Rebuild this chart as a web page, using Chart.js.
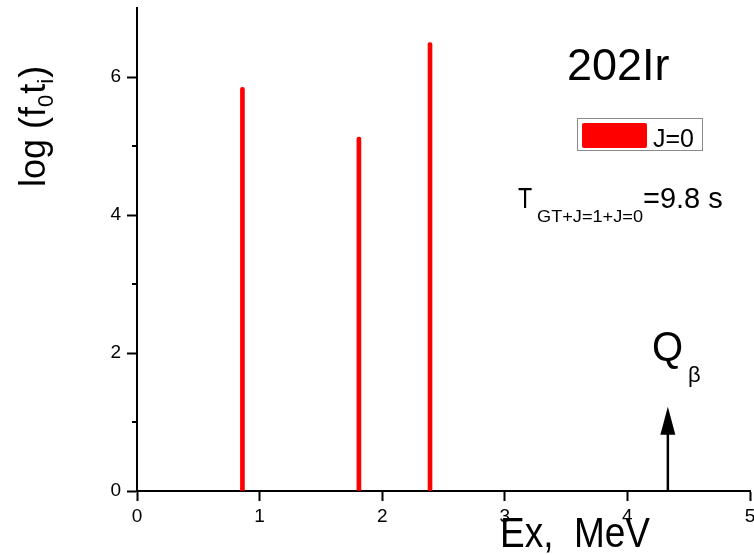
<!DOCTYPE html>
<html>
<head>
<meta charset="utf-8">
<script src="https://cdn.jsdelivr.net/npm/chart.js@4.4.1/dist/chart.umd.min.js"></script>
<style>
    html, body { margin: 0; padding: 0; background: #ffffff; }
    #wrap { width: 754px; height: 555px; }
</style>
</head>
<body>
<div id="wrap"><canvas id="grafico"></canvas></div>
<script>
// energias dos niveis (MeV) e log(f0 t) de cada um
const energias = [0.86, 1.81, 2.39];
const logft = [5.85, 5.13, 6.5];
const ticksX = [0, 1, 2, 3, 4, 5];
const ticksY = [0, 2, 4, 6];
const minorY = [1, 3, 5];
// seta do Q beta
const qBeta = 4.33;
const qBetaTopo = 1.22;

const FONTE = '"Liberation Sans", Arial, sans-serif';

const pontos = energias.map((e, i) => ({ x: e, y: logft[i] }));

const anotacoes = {
    id: 'anotacoes',
    afterDraw(chart) {
        const ctx = chart.ctx;
        const sx = chart.scales.x;
        const sy = chart.scales.y;
        ctx.save();
        ctx.fillStyle = '#000';
        ctx.strokeStyle = '#000';

        // minor ticks do eixo y
        ctx.lineWidth = 2;
        minorY.forEach(v => {
            const y = sy.getPixelForValue(v);
            ctx.beginPath();
            ctx.moveTo(sx.left - 5, y);
            ctx.lineTo(sx.left, y);
            ctx.stroke();
        });

        // seta Q beta
        const xa = sx.getPixelForValue(qBeta);
        const y0 = sy.getPixelForValue(0);
        const yt = sy.getPixelForValue(qBetaTopo);
        ctx.lineWidth = 2.5;
        ctx.beginPath();
        ctx.moveTo(xa, y0);
        ctx.lineTo(xa, yt + 20);
        ctx.stroke();
        ctx.beginPath();
        ctx.moveTo(xa, yt);
        ctx.lineTo(xa - 7.5, yt + 28);
        ctx.lineTo(xa + 7.5, yt + 28);
        ctx.closePath();
        ctx.fill();

        ctx.textBaseline = 'alphabetic';
        ctx.textAlign = 'left';

        // Q beta
        ctx.font = '43px ' + FONTE;
        ctx.save();
        ctx.translate(652, 361);
        ctx.scale(0.93, 1);
        ctx.fillText('Q', 0, 0);
        ctx.restore();
        ctx.font = '22px ' + FONTE;
        ctx.fillText('\u03b2', 688, 382);

        // nucleo
        ctx.font = '45px ' + FONTE;
        ctx.fillText('202Ir', 567, 80);

        // legenda
        ctx.lineWidth = 1;
        ctx.strokeStyle = '#8a8a8a';
        ctx.strokeRect(577.5, 118.5, 125, 32);
        ctx.fillStyle = '#ff0000';
        ctx.beginPath();
        ctx.roundRect(582, 123, 65, 25, 2);
        ctx.fill();
        ctx.fillStyle = '#000';
        ctx.font = '25px ' + FONTE;
        ctx.fillText('J=0', 653, 147);

        // meia-vida
        ctx.font = '29px ' + FONTE;
        ctx.save();
        ctx.translate(518, 208);
        ctx.scale(0.8, 1);
        ctx.fillText('T', 0, 0);
        ctx.restore();
        ctx.font = '17px ' + FONTE;
        const sub = 'GT+J=1+J=0';
        const wSub = ctx.measureText(sub).width;
        ctx.save();
        ctx.translate(537, 222);
        ctx.scale(106 / wSub, 1);
        ctx.fillText(sub, 0, 0);
        ctx.restore();
        ctx.font = '29px ' + FONTE;
        ctx.fillText('=9.8 s', 643, 208);

        // titulo eixo x
        ctx.font = '42px ' + FONTE;
        const tx = 'Ex,  MeV';
        const wTx = ctx.measureText(tx).width;
        ctx.save();
        ctx.translate(500, 547);
        ctx.scale(150 / wTx, 1);
        ctx.fillText(tx, 0, 0);
        ctx.restore();

        // titulo eixo y
        ctx.save();
        ctx.translate(45, 187);
        ctx.rotate(-Math.PI / 2);
        let pos = 0;
        const partes = [
            { t: 'log (f', f: 36, dy: 0 },
            { t: '0', f: 22, dy: 8 },
            { t: 't', f: 36, dy: 0 },
            { t: 'i', f: 22, dy: 8 },
            { t: ')', f: 36, dy: 0 }
        ];
        partes.forEach(p => {
            ctx.font = p.f + 'px ' + FONTE;
            ctx.fillText(p.t, pos, p.dy);
            pos += ctx.measureText(p.t).width + (p.f === 22 ? 1 : 0);
        });
        ctx.restore();

        ctx.restore();
    }
};

new Chart(document.getElementById('grafico'), {
    type: 'bar',
    data: {
        datasets: [{
            label: 'J=0',
            data: pontos,
            backgroundColor: '#ff0000',
            barThickness: 4,
            borderRadius: 2,
            borderSkipped: 'start'
        }]
    },
    options: {
        responsive: true,
        maintainAspectRatio: false,
        animation: false,
        layout: {
            padding: { top: 8, right: 4, left: 0, bottom: 0 }
        },
        plugins: {
            legend: { display: false },
            tooltip: { enabled: false }
        },
        scales: {
            x: {
                type: 'linear',
                min: 0,
                max: 5,
                offset: false,
                afterBuildTicks(scale) {
                    scale.ticks = ticksX.map(v => ({ value: v }));
                },
                afterFit(scale) {
                    scale.height = 64;
                    scale.paddingLeft = 0;
                    scale.paddingRight = 0;
                },
                border: { color: '#000', width: 2 },
                grid: {
                    offset: false,
                    drawOnChartArea: false,
                    tickLength: 10,
                    tickWidth: 2,
                    tickColor: '#000'
                },
                ticks: {
                    color: '#000',
                    padding: 4,
                    maxRotation: 0,
                    font: { family: FONTE, size: 19 }
                }
            },
            y: {
                min: 0,
                max: 7,
                afterBuildTicks(scale) {
                    scale.ticks = ticksY.map(v => ({ value: v }));
                },
                afterFit(scale) {
                    scale.width = 137;
                    scale.paddingTop = 0;
                    scale.paddingBottom = 0;
                },
                border: { color: '#000', width: 2 },
                grid: {
                    drawOnChartArea: false,
                    tickLength: 10,
                    tickWidth: 2,
                    tickColor: '#000'
                },
                ticks: {
                    color: '#000',
                    padding: 6,
                    font: { family: FONTE, size: 19 }
                }
            }
        }
    },
    plugins: [anotacoes]
});
</script>
</body>
</html>
